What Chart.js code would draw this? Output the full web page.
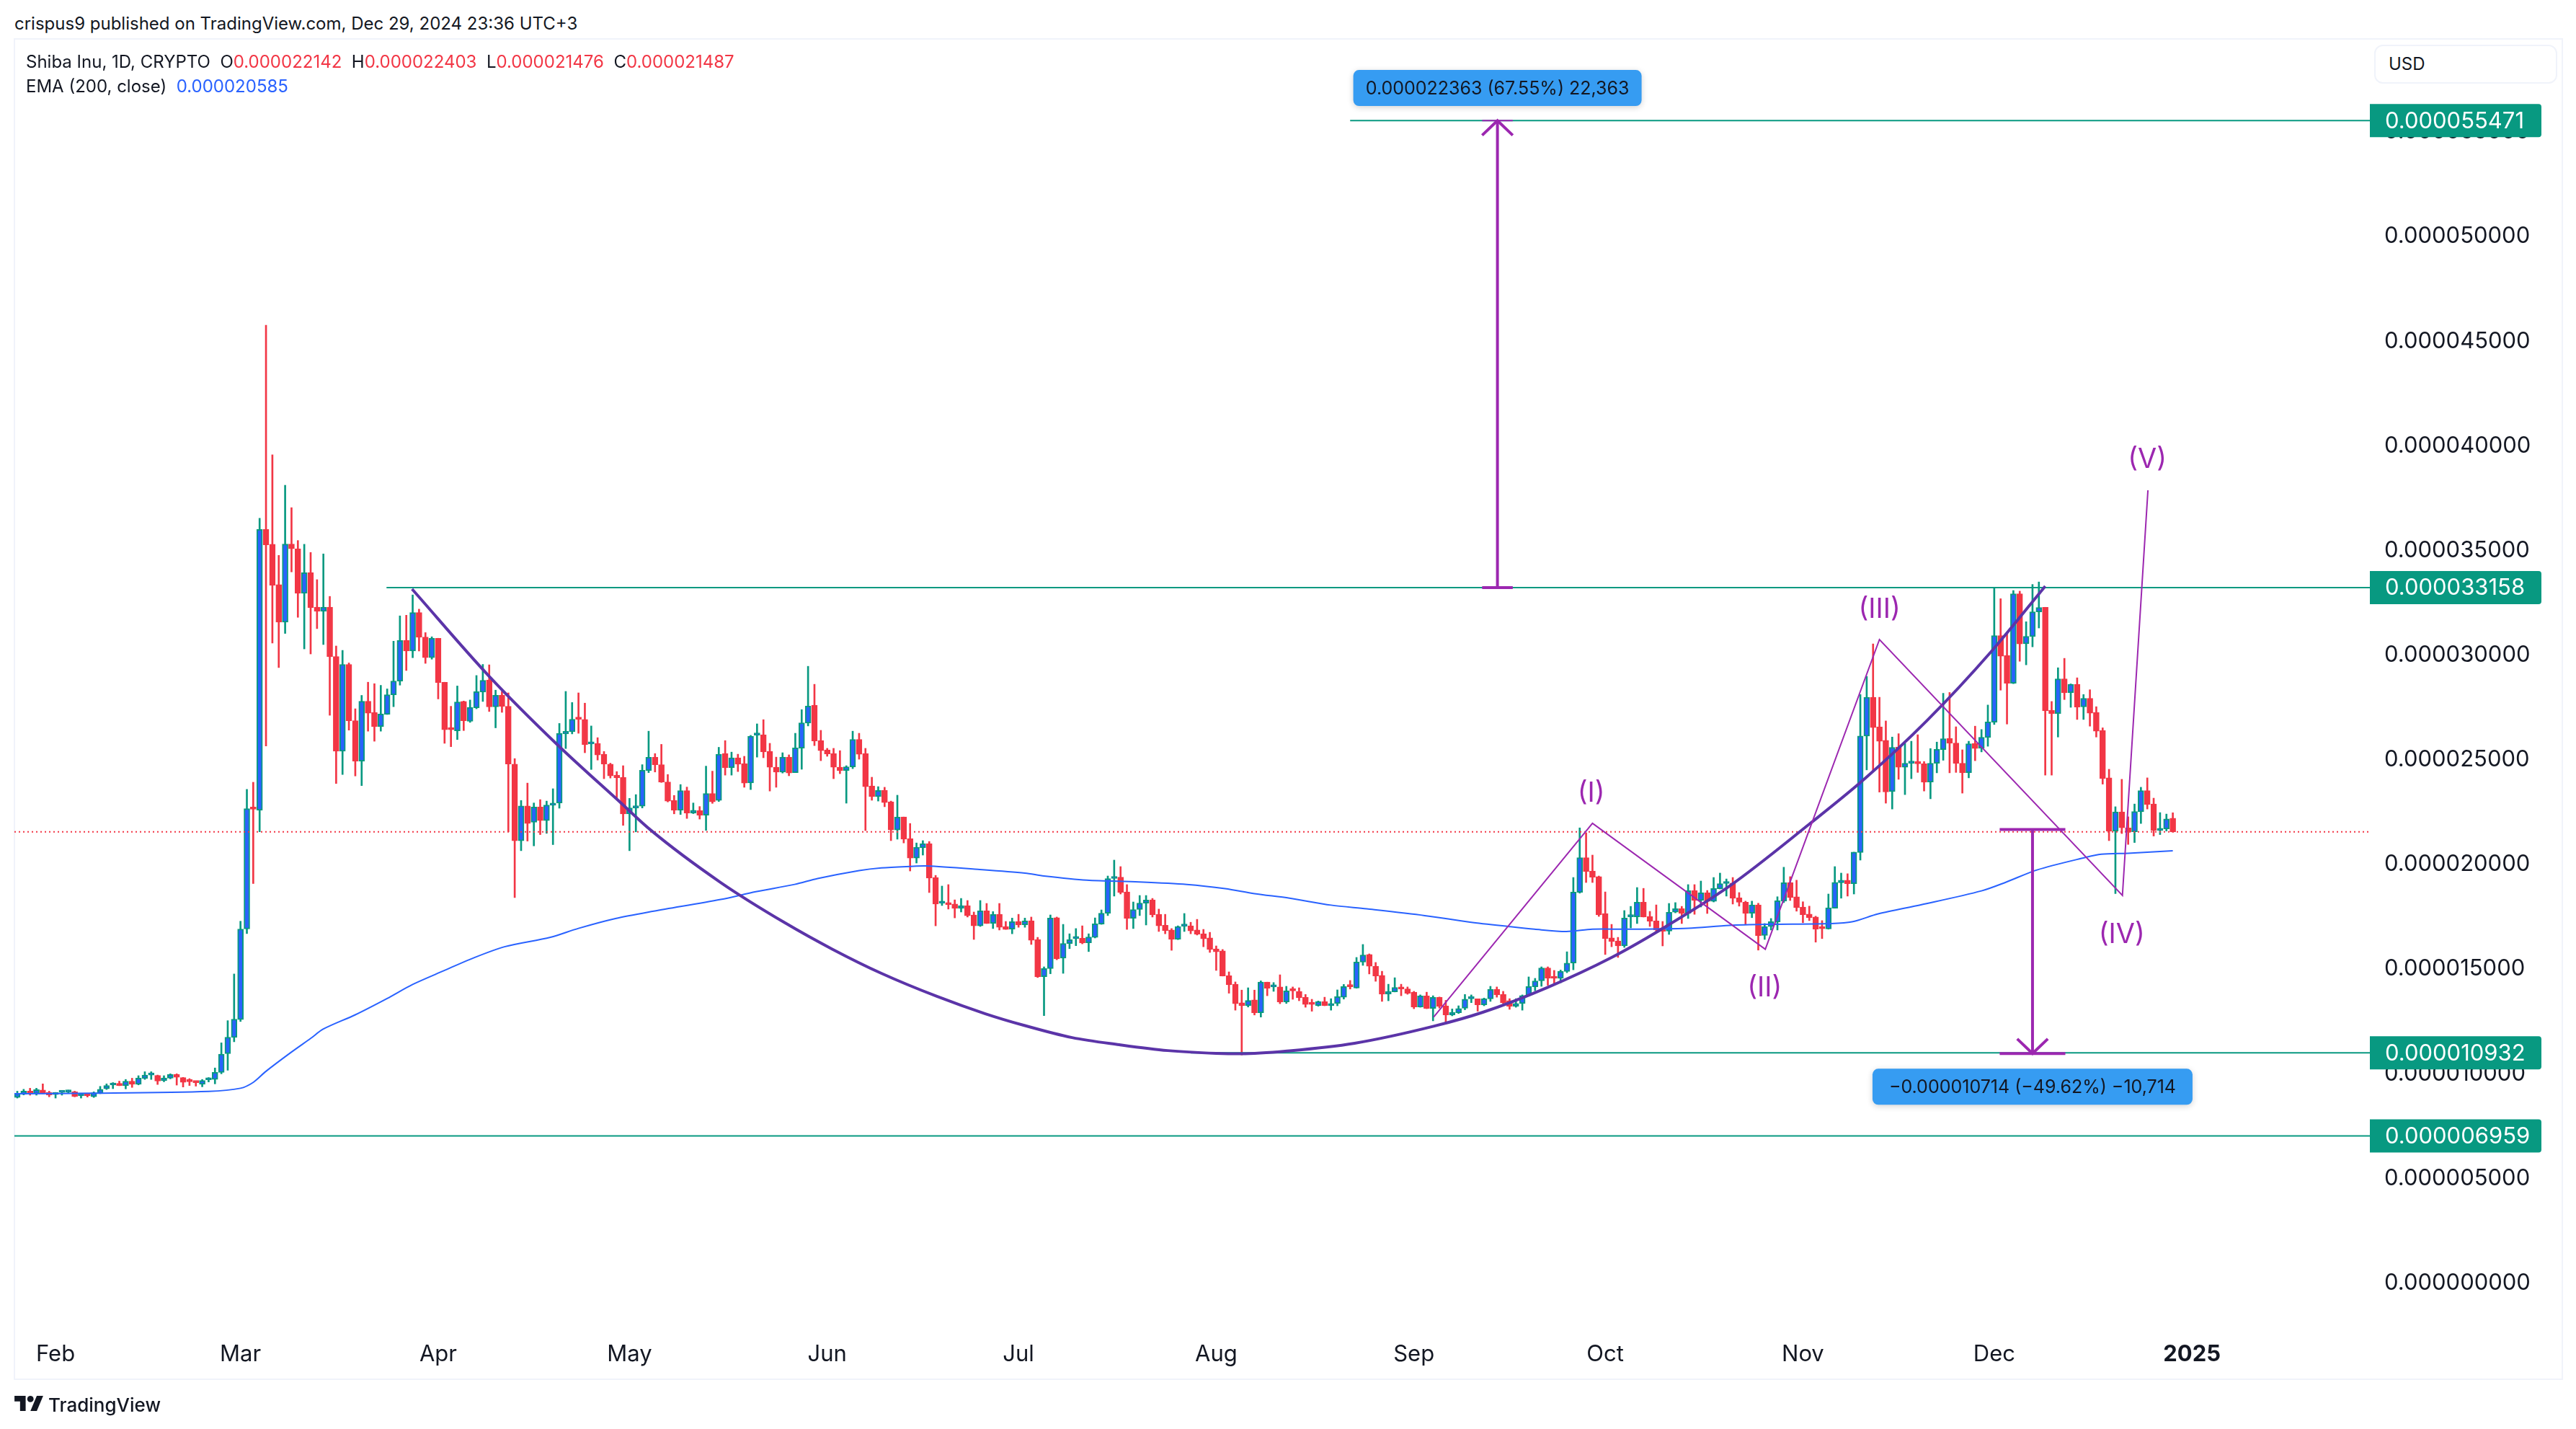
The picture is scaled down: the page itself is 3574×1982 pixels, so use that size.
<!DOCTYPE html>
<html>
<head>
<meta charset="utf-8">
<title>Shiba Inu, 1D</title>
<script src="https://cdn.jsdelivr.net/npm/chart.js@4"></script>
<style>
  html, body { margin: 0; padding: 0; background: #fff; }
  body { width: 3574px; height: 1982px; position: relative; overflow: hidden; font-family: Inter, sans-serif; color: #131722; }
  canvas { position: absolute; left: 0; top: 0; }
  .txt { position: absolute; white-space: pre; }
  #panel { position: absolute; left: 19px; top: 53px; width: 3533px; height: 1857px; border: 2px solid #f0f3fa; }
  #usd { position: absolute; left: 3294px; top: 62px; width: 250px; height: 50px; border: 2px solid #f0f3fa; border-radius: 12px; background: #fff; font-size: 24px; line-height: 50px; text-indent: 18px; }
  .r { color: #f23645; }
  .b { color: #2962ff; }
</style>
</head>
<body>
<div class="txt" style="left:20px;top:18px;font-size:24px;line-height:30px">crispus9 published on TradingView.com, Dec 29, 2024 23:36 UTC+3</div>
<div id="panel"></div>
<canvas id="grafico" width="3574" height="1982"></canvas>
<div class="txt" style="left:36px;top:71px;font-size:24px;line-height:30px">Shiba Inu, 1D, CRYPTO  O<span class="r">0.000022142</span>  H<span class="r">0.000022403</span>  L<span class="r">0.000021476</span>  C<span class="r">0.000021487</span></div>
<div class="txt" style="left:36px;top:105px;font-size:24px;line-height:30px">EMA (200, close)  <span class="b">0.000020585</span></div>
<div id="usd">USD</div>
<svg style="position:absolute;left:20px;top:1936px" width="40" height="21" viewBox="0 0 36 19">
  <path d="M14 19H7V7H0V0h14v19z" fill="#131722"/><circle cx="20" cy="4" r="4" fill="#131722"/><path d="M28 19h-8l8-19h8l-8 19z" fill="#131722"/>
</svg>
<div class="txt" style="left:67px;top:1932px;font-size:26px;line-height:34px;font-weight:500">TradingView</div>

<script>
// prices are in millionths of a USD, x is the day count from 26 Jan 2024
const opens = [
  8.80,8.95,9.10,8.98,9.16,9.04,8.94,9.04,9.06,9.07,
  8.88,8.91,8.83,9.00,9.21,9.39,9.42,9.36,9.58,9.43,
  9.70,9.87,9.85,9.60,9.72,9.90,9.75,9.60,9.54,9.43,
  9.64,9.66,10.00,10.89,11.67,12.52,16.85,22.61,22.53,35.94,
  35.23,33.30,31.51,35.24,35.01,32.89,33.87,32.23,32.03,32.23,
  29.87,25.34,29.49,26.80,24.87,27.73,27.19,26.52,27.10,28.04,
  28.69,30.63,30.13,31.97,30.80,29.81,30.74,28.64,26.43,26.32,
  27.72,26.77,27.42,28.17,28.74,27.46,28.02,27.49,24.73,21.06,
  22.73,21.95,22.68,22.03,22.76,22.87,26.17,26.27,26.92,26.86,
  25.69,25.72,25.20,24.73,24.20,24.09,22.35,22.63,22.72,24.42,
  25.05,24.70,23.87,22.99,22.53,23.46,22.39,22.50,22.29,23.32,
  22.99,25.23,24.56,25.03,24.75,23.83,26.11,26.13,25.34,24.58,
  24.34,25.06,24.32,25.49,26.69,27.54,25.85,25.41,25.23,24.58,
  24.42,24.59,25.91,25.23,23.68,23.17,23.48,22.93,21.58,22.20,
  21.17,20.24,20.73,20.93,19.31,18.08,18.11,18.04,17.83,17.97,
  17.52,17.00,17.72,17.12,17.55,16.97,16.84,17.21,17.05,17.24,
  16.35,14.57,14.96,17.39,15.46,16.15,16.39,16.41,16.19,16.45,
  17.08,17.60,19.26,19.33,18.62,17.36,17.78,18.08,18.24,17.54,
  17.03,16.80,16.36,16.98,17.00,16.80,16.62,16.42,15.90,15.80,
  14.62,14.21,13.32,13.18,13.46,12.85,14.31,14.08,14.08,13.36,
  13.93,13.87,13.58,13.27,13.19,13.38,13.19,13.29,13.59,14.13,
  14.03,15.27,15.63,15.07,14.63,13.74,13.85,14.06,13.99,13.83,
  13.12,13.65,13.05,13.58,13.17,12.74,12.85,13.06,13.51,13.51,
  13.23,13.51,13.96,13.72,13.43,13.16,13.29,13.67,14.09,14.37,
  14.99,14.53,14.49,14.82,15.22,18.60,20.26,19.62,19.35,17.59,
  16.42,16.28,16.04,17.43,17.43,18.13,17.44,17.23,16.90,16.75,
  17.65,17.82,17.60,18.68,18.21,18.58,18.17,18.77,19.02,19.04,
  18.34,18.13,17.60,18.00,16.54,16.96,17.19,18.18,19.07,18.39,
  17.90,17.56,17.42,16.89,16.85,17.84,19.06,19.18,19.01,20.50,
  26.07,27.92,26.51,25.86,23.41,25.54,24.58,24.77,24.85,24.74,
  23.87,24.77,25.42,25.95,25.73,24.77,24.32,25.71,25.48,26.00,
  26.73,30.87,29.92,28.59,32.86,30.48,30.82,32.00,32.22,27.29,
  27.14,28.80,28.14,28.54,27.46,27.87,27.20,26.34,24.07,21.53,
  22.44,21.68,21.49,22.45,23.46,22.82,21.56,21.63,22.142
];
const highs = [
  9.10,9.19,9.24,9.24,9.45,9.10,9.04,9.09,9.15,9.10,
  8.98,8.98,9.07,9.33,9.45,9.51,9.58,9.66,9.72,9.84,
  10.03,10.03,9.87,9.84,9.93,9.93,9.76,9.70,9.58,9.66,
  9.75,10.21,11.41,12.47,14.70,17.22,23.52,23.86,36.47,45.70,
  39.50,34.70,38.05,36.98,35.41,35.23,34.84,33.54,34.77,32.74,
  30.37,30.16,29.56,27.37,28.01,28.64,28.57,28.49,28.32,30.60,
  31.81,31.84,32.81,32.13,31.01,30.81,30.74,28.64,27.49,28.46,
  27.74,27.79,28.96,29.49,29.47,28.26,28.20,28.13,24.99,22.99,
  23.82,22.87,23.03,22.96,23.55,26.67,28.20,27.67,28.13,27.64,
  26.55,25.99,25.33,24.77,24.37,24.65,23.09,23.27,24.70,26.30,
  25.23,25.67,24.23,23.23,23.75,23.63,22.87,22.70,24.63,24.39,
  25.53,25.85,25.30,25.20,25.10,26.10,26.65,26.85,25.72,25.06,
  25.27,25.17,26.20,27.33,29.40,28.54,26.34,25.48,25.48,25.37,
  24.65,26.30,26.20,25.48,24.10,23.65,23.62,22.96,23.24,22.20,
  21.89,20.96,21.07,21.03,19.41,18.90,18.97,18.24,18.31,18.21,
  17.66,18.21,18.07,17.68,18.07,17.21,17.37,17.55,17.37,17.42,
  16.45,15.04,17.52,17.42,17.07,16.62,16.87,17.00,16.62,17.38,
  17.76,19.38,20.14,19.83,18.97,18.14,18.45,18.45,18.31,17.80,
  17.55,16.87,17.00,17.59,17.17,17.31,16.83,16.69,16.04,15.87,
  14.80,14.32,13.93,14.04,13.93,14.37,14.31,14.29,14.66,14.11,
  14.08,14.04,13.72,13.49,13.41,13.59,13.52,13.94,14.20,14.39,
  15.49,16.11,15.66,15.25,14.83,14.21,14.52,14.21,14.08,13.87,
  13.70,13.83,13.66,13.60,13.44,13.03,13.18,13.72,13.70,13.51,
  13.55,14.11,14.08,13.87,13.52,13.52,13.70,14.56,14.49,15.04,
  15.04,14.87,14.89,15.76,19.31,21.68,21.45,20.38,19.38,18.62,
  17.07,16.45,17.73,17.93,18.83,18.79,17.69,18.00,17.21,18.07,
  18.11,17.93,18.97,18.97,19.14,18.69,19.31,19.52,19.24,19.31,
  18.59,18.18,18.18,18.08,17.11,17.35,18.39,19.80,19.35,19.18,
  18.15,17.94,17.46,17.25,18.52,19.83,19.52,19.49,20.52,28.05,
  28.92,30.47,27.92,26.79,26.02,26.18,25.71,25.82,26.13,24.85,
  25.47,25.78,28.11,28.15,26.51,25.41,25.82,26.54,26.38,27.55,
  33.15,32.63,30.98,33.02,32.99,31.53,33.31,33.43,32.22,27.72,
  29.33,29.78,28.56,28.85,28.05,28.28,27.47,26.46,24.48,22.69,
  24.00,22.21,22.82,23.62,24.07,23.10,22.41,22.34,22.403
];
const lows = [
  8.77,8.92,8.91,8.91,8.98,8.83,8.77,8.91,8.99,8.83,
  8.77,8.82,8.80,8.98,9.18,9.22,9.36,9.21,9.28,9.40,
  9.66,9.66,9.42,9.55,9.69,9.39,9.30,9.37,9.34,9.31,
  9.54,9.45,9.93,10.10,11.46,12.43,16.63,19.02,21.49,25.59,
  30.51,29.34,30.97,33.91,31.74,30.23,29.99,31.20,30.44,27.06,
  23.80,24.23,26.35,24.16,23.70,26.30,25.82,26.30,27.10,27.47,
  28.50,29.20,29.81,30.13,29.54,29.74,27.84,25.72,25.56,25.90,
  26.33,26.72,27.37,27.72,27.24,26.46,27.20,21.49,18.35,20.59,
  21.05,20.82,21.36,21.42,20.88,22.62,25.47,26.17,26.20,25.27,
  24.47,24.92,24.03,24.06,23.06,21.80,20.59,21.49,22.63,24.32,
  24.35,23.85,22.92,22.35,22.32,22.13,22.36,22.10,21.56,22.85,
  22.94,24.20,24.20,24.37,23.62,23.51,25.06,25.03,23.44,23.62,
  24.30,24.17,24.32,24.48,26.55,25.61,24.89,25.10,24.03,24.27,
  22.86,24.51,24.96,21.55,23.00,22.96,22.69,21.07,21.14,20.96,
  19.62,20.00,20.38,18.59,17.00,17.97,17.80,17.38,17.66,17.42,
  16.35,16.97,17.11,16.87,16.80,16.83,16.62,16.93,16.93,16.11,
  14.53,12.71,14.71,15.38,14.73,15.91,16.05,16.14,15.77,16.42,
  17.07,17.49,18.42,18.52,16.83,16.87,17.49,17.04,17.42,16.73,
  16.62,15.83,16.34,16.73,16.62,16.56,16.00,15.73,14.87,14.60,
  13.78,12.97,10.83,13.12,12.74,12.64,13.66,13.87,13.28,13.29,
  13.49,13.42,13.11,12.92,13.16,13.18,12.97,13.18,13.50,13.98,
  14.02,15.11,14.70,14.35,13.39,13.42,13.84,13.66,13.73,13.04,
  13.11,13.04,12.46,13.07,12.32,12.70,12.81,12.99,13.33,12.92,
  13.18,13.39,13.59,13.28,13.01,13.11,12.97,13.64,13.90,14.11,
  14.16,14.21,14.28,14.76,14.90,18.56,19.07,19.07,17.45,15.63,
  16.00,15.49,15.97,16.90,17.11,17.42,16.97,16.74,16.04,16.59,
  17.62,17.11,17.35,17.55,17.90,17.59,18.14,18.76,18.42,18.04,
  17.94,17.08,17.39,15.84,16.35,16.80,16.80,18.11,18.21,17.70,
  17.15,17.25,16.22,16.39,16.84,17.84,18.32,18.42,18.52,20.14,
  24.45,24.39,23.39,22.86,22.58,24.00,23.27,24.03,24.33,23.44,
  23.07,24.31,24.91,24.31,24.33,23.34,24.07,24.89,25.31,25.58,
  26.62,28.26,26.64,28.57,29.64,29.47,30.33,31.23,24.20,24.20,
  26.02,27.81,27.44,26.86,26.86,26.54,26.02,23.77,21.07,18.54,
  21.41,20.89,20.98,21.89,22.58,21.29,21.36,21.53,21.476
];
const closes = [
  8.98,9.10,8.98,9.17,8.99,8.92,8.97,9.07,9.09,8.85,
  8.92,8.88,9.03,9.19,9.37,9.42,9.37,9.58,9.43,9.72,
  9.87,9.90,9.58,9.73,9.90,9.76,9.52,9.55,9.51,9.61,
  9.67,10.00,10.87,11.68,12.54,16.85,22.60,22.57,35.94,35.20,
  33.27,31.51,35.24,35.01,32.89,33.87,32.20,32.03,32.23,29.86,
  25.34,29.49,26.80,24.87,27.73,27.16,26.52,27.12,28.04,28.70,
  30.63,30.13,31.97,30.79,29.81,30.74,28.62,26.37,26.37,27.70,
  26.80,27.44,28.19,28.73,27.46,28.02,27.49,24.73,21.06,22.73,
  21.89,22.68,22.03,22.77,22.87,26.19,26.29,26.87,26.87,25.66,
  25.75,25.16,24.73,24.16,24.07,22.35,22.63,22.73,24.43,25.05,
  24.70,23.87,22.96,22.53,23.46,22.39,22.52,22.29,23.32,22.92,
  25.20,24.55,25.03,24.72,23.82,26.06,26.16,25.31,24.58,24.34,
  25.06,24.30,25.50,26.70,27.50,25.83,25.37,25.21,24.58,24.41,
  24.60,25.91,25.20,23.65,23.17,23.47,22.89,21.58,22.19,21.14,
  20.24,20.76,20.93,19.28,18.04,18.14,18.01,17.83,17.97,17.48,
  17.00,17.72,17.11,17.54,16.93,16.83,17.20,17.04,17.23,16.31,
  14.56,14.96,17.37,15.42,16.16,16.34,16.44,16.18,16.47,17.10,
  17.60,19.26,19.33,18.59,17.35,17.78,18.09,18.23,17.52,17.00,
  16.77,16.35,16.97,17.04,16.76,16.60,16.38,15.87,15.76,14.60,
  14.18,13.28,13.18,13.44,12.84,14.31,14.02,14.11,13.36,13.89,
  13.89,13.56,13.24,13.24,13.38,13.19,13.29,13.62,14.10,14.09,
  15.27,15.61,15.07,14.60,13.73,13.86,14.06,13.98,13.78,13.12,
  13.65,13.05,13.58,13.15,12.74,12.86,13.05,13.50,13.55,13.23,
  13.51,13.96,13.70,13.32,13.16,13.29,13.67,14.10,14.37,14.99,
  14.50,14.49,14.82,15.22,18.61,20.26,19.60,19.32,17.52,16.39,
  16.25,16.04,17.37,17.47,18.13,17.42,17.22,16.80,16.74,17.65,
  17.82,17.59,18.68,18.21,18.58,18.17,18.78,19.02,19.07,18.32,
  18.13,17.59,18.00,16.53,16.97,17.20,18.20,19.06,18.35,17.87,
  17.53,17.39,16.84,16.86,17.86,19.08,19.18,19.01,20.52,26.07,
  27.92,26.47,25.82,23.40,25.53,24.58,24.77,24.85,24.74,23.86,
  24.77,25.43,25.94,25.72,24.76,24.31,25.70,25.47,26.01,26.74,
  30.87,29.88,28.59,32.86,30.47,30.83,32.00,32.21,27.27,27.14,
  28.80,28.13,28.54,27.45,27.87,27.16,26.30,24.03,21.52,22.44,
  21.68,21.48,22.46,23.46,22.79,21.56,21.64,22.11,21.487
];

// EMA 200, read every few days
const emaDays = [-0.45,12,30,35,37,39,43,46,48,53,58,62,67,71,76.4,83.6,88,93.8,99.8,110.3,115.8,121.9,125.5,132,135.5,140,142.6,150.6,158,161,167.7,175.9,183.4,189.4,194,199.5,206,211.6,220.7,227.8,233.8,237.9,242.9,247,252,257,262,268.5,274.2,284.3,287.7,291.8,298.6,308,311.8,316.7,324.2,326.8,331,338];
const emaValues = [8.98,9.00,9.09,9.24,9.52,10.05,10.97,11.62,12.07,12.75,13.53,14.20,14.87,15.40,16.00,16.45,16.88,17.35,17.70,18.26,18.63,18.98,19.26,19.64,19.77,19.84,19.86,19.70,19.52,19.38,19.18,19.10,18.98,18.78,18.54,18.32,17.99,17.81,17.49,17.18,16.97,16.84,16.73,16.84,16.84,16.85,16.88,17.02,17.07,17.11,17.19,17.57,18.01,18.67,19.08,19.67,20.26,20.42,20.47,20.585];

// rounding bottom drawn by the author
const cupDays = [61.9,74,84.7,94.7,99.3,110.3,120.4,127.9,135.5,144.2,151.8,157.8,165.4,172.8,180.4,188,191.9,199.5,209.7,222.2,229.8,239.8,250,257.6,268.5,281,289.7,299.4,309.6,318];
const cupValues = [33.09,28.92,25.65,22.86,21.58,19.07,17.14,15.87,14.73,13.63,12.80,12.25,11.66,11.32,11.04,10.91,10.89,11.03,11.39,12.21,12.87,14.04,15.49,16.80,18.90,21.86,24.03,26.79,30.13,33.23];

// wave count
const waveDays = [222.1,247,274.1,292,330.1,334.1];
const waveValues = [12.64,21.90,15.88,30.68,18.45,37.81];
const waveLabels = ['(I)','(II)','(III)','(IV)','(V)'];
const waveLabelDays = [246.8,274,292,330,334];
const waveLabelValues = [23.31,14.03,32.09,16.57,39.26];

// horizontal levels
const levelValues = [55.471,33.158,10.932,6.959];
const levelStarts = [209,57.9,184,-0.45];
const lastClose = 21.487;

// measure arrows: shaft day, from, to
const arrowDays = [232.1,316];
const arrowFrom = [33.158,21.6];
const arrowTo = [55.471,10.9];
const arrowTexts = ['0.000022363 (67.55%) 22,363','\u22120.000010714 (\u221249.62%) \u221210,714'];
const arrowTextValues = [57.03,9.31];

const xTickDays = [6,35,66,96,127,157,188,219,249,280,310,341];
const xTickLabels = ['Feb','Mar','Apr','May','Jun','Jul','Aug','Sep','Oct','Nov','Dec','2025'];
const yTickValues = [0,5,10,15,20,25,30,35,40,45,50,55];

const xMin = -0.45, xMax = 368.9, yMin = -2.08, yMax = 59.34;

const GREEN = '#089981', RED = '#f23645', BLUE = '#2962ff', PURPLE = '#9c27b0', CUP = '#5b34a8';
const FONT = 'Inter, sans-serif';

function isUp(i) { return closes[i] >= opens[i]; }
function pairs(xs, ys) { return xs.map((x, i) => ({ x: x, y: ys[i] })); }
function lineSet(data, color, width, order, extra) {
  return Object.assign({ type: 'line', data: data, borderColor: color, borderWidth: width, pointRadius: 0, order: order, tension: 0, fill: false }, extra || {});
}

const datasets = [];

// candles
datasets.push({
  data: opens.map((o, i) => ({ x: i, y: [lows[i], highs[i]] })),
  backgroundColor: ctx => isUp(ctx.dataIndex) ? GREEN : RED,
  barThickness: 2, grouped: false, order: 20
});
datasets.push({
  data: opens.map((o, i) => ({ x: i, y: [o, closes[i]] })),
  backgroundColor: ctx => isUp(ctx.dataIndex) ? BLUE : RED,
  borderColor: ctx => isUp(ctx.dataIndex) ? GREEN : RED,
  borderWidth: 2, borderSkipped: false, minBarLength: 3,
  barThickness: 8, grouped: false, order: 19
});

datasets.push(lineSet(pairs(emaDays, emaValues), BLUE, 2, 10, { tension: 0.3 }));
datasets.push(lineSet(pairs(cupDays, cupValues), CUP, 4, 8, { cubicInterpolationMode: 'monotone' }));
datasets.push(lineSet(pairs(waveDays, waveValues), PURPLE, 2, 7));

levelValues.forEach((v, i) => {
  datasets.push(lineSet([{ x: levelStarts[i], y: v }, { x: xMax, y: v }], GREEN, 2, 9));
});
datasets.push(lineSet([{ x: xMin, y: lastClose }, { x: xMax, y: lastClose }], RED, 2, 12, { borderDash: [2, 4] }));

// arrows: shaft, head and the end caps
const capSpan = [2.4, 5.15];
arrowDays.forEach((d, i) => {
  const from = arrowFrom[i], to = arrowTo[i];
  const back = to > from ? to - 0.7 : to + 0.7;
  datasets.push(lineSet([{ x: d, y: from }, { x: d, y: to }], PURPLE, 4, 5));
  datasets.push(lineSet([{ x: d - 2.4, y: back }, { x: d, y: to }, { x: d + 2.4, y: back }], PURPLE, 4, 5));
  datasets.push(lineSet([{ x: d - capSpan[i], y: from }, { x: d + capSpan[i], y: from }], PURPLE, 4, 5));
  datasets.push(lineSet([{ x: d - capSpan[i], y: to }, { x: d + capSpan[i], y: to }], PURPLE, i === 0 ? 2 : 4, 5));
});

const overlay = {
  id: 'overlay',
  afterDraw(chart) {
    const c = chart.ctx, x = chart.scales.x, y = chart.scales.y;
    c.save();

    // wave labels
    c.fillStyle = PURPLE;
    c.font = '38px ' + FONT;
    c.textAlign = 'center';
    c.textBaseline = 'middle';
    waveLabels.forEach((t, i) => c.fillText(t, x.getPixelForValue(waveLabelDays[i]), y.getPixelForValue(waveLabelValues[i])));

    // measure boxes
    const boxWidths = [400, 444];
    c.font = '25px ' + FONT;
    arrowTexts.forEach((t, i) => {
      const w = boxWidths[i], cx = x.getPixelForValue(arrowDays[i]), cy = y.getPixelForValue(arrowTextValues[i]);
      c.save();
      c.shadowColor = 'rgba(0,0,0,0.18)';
      c.shadowBlur = 8;
      c.shadowOffsetY = 2;
      c.fillStyle = '#369cf2';
      c.beginPath();
      c.roundRect(cx - w / 2, cy - 25, w, 50, 8);
      c.fill();
      c.restore();
      c.fillStyle = '#131722';
      c.fillText(t, cx, cy + 1);
    });

    // level badges on the price axis
    c.font = '31px ' + FONT;
    c.textAlign = 'left';
    levelValues.forEach(v => {
      const py = y.getPixelForValue(v);
      c.fillStyle = GREEN;
      c.beginPath();
      c.roundRect(3288, py - 23, 238, 46, [0, 4, 4, 0]);
      c.fill();
      c.fillStyle = '#fff';
      c.fillText((v / 1e6).toFixed(9), 3309, py + 1);
    });
    c.restore();
  }
};

new Chart(document.getElementById('grafico').getContext('2d'), {
  type: 'bar',
  data: { datasets: datasets },
  plugins: [overlay],
  options: {
    responsive: false,
    animation: false,
    layout: { padding: { left: 20, right: 20, top: 55, bottom: 70 } },
    plugins: { legend: { display: false }, tooltip: { enabled: false } },
    scales: {
      x: {
        type: 'linear', min: xMin, max: xMax, offset: false,
        grid: { display: false, drawTicks: false },
        border: { display: false },
        afterFit(s) { s.height = 74; },
        afterBuildTicks(s) { s.ticks = xTickDays.map(v => ({ value: v })); },
        ticks: {
          padding: 22, maxRotation: 0, autoSkip: false, color: '#131722',
          font: ctx => ({ family: FONT, size: 31, weight: ctx.tick && ctx.tick.value === 341 ? 'bold' : 'normal' }),
          callback(v) { return xTickLabels[xTickDays.indexOf(v)]; }
        }
      },
      y: {
        type: 'linear', position: 'right', min: yMin, max: yMax,
        grid: { display: false, drawTicks: false },
        border: { display: false },
        afterFit(s) { s.width = 266; },
        afterBuildTicks(s) { s.ticks = yTickValues.map(v => ({ value: v })); },
        ticks: {
          padding: 20, labelOffset: 2, color: '#131722', autoSkip: false,
          font: { family: FONT, size: 31 },
          callback(v) { return (v / 1e6).toFixed(9); }
        }
      }
    }
  }
});
</script>
</body>
</html>
